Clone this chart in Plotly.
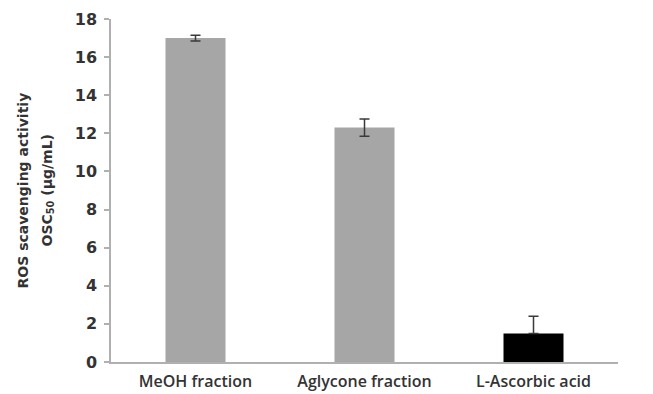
import plotly.graph_objects as go

categories = ["MeOH fraction", "Aglycone fraction", "L-Ascorbic acid"]
values = [17.0, 12.3, 1.5]
errors_plus = [0.15, 0.45, 0.9]
errors_minus = [0.15, 0.45, 0.0]
colors = ["#a6a6a6", "#a6a6a6", "#000000"]
y_ticks = [0, 2, 4, 6, 8, 10, 12, 14, 16, 18]
y_title_lines = ["ROS scavenging activitiy", "OSC<sub>50</sub> (µg/mL)"]

fig = go.Figure()
fig.add_trace(go.Bar(
    x=categories, y=values,
    marker=dict(color=colors, line=dict(width=0)),
    width=0.355,
    error_y=dict(type="data", array=errors_plus, arrayminus=errors_minus,
                 symmetric=False, visible=True, color="#3a3a3a", thickness=1.5, width=5),
))

plot_w = 653 - 111 - 35
title_font = dict(family="DejaVu Sans", size=14, color="#333333", weight="bold")

fig.update_layout(
    width=653, height=394,
    margin=dict(l=111, r=35, t=19, b=32),
    plot_bgcolor="white", paper_bgcolor="white",
    showlegend=False,
    xaxis=dict(
        showline=True, linecolor="#b0b0b0", linewidth=1.5,
        ticks="", showgrid=False, automargin=False,
        tickfont=dict(family="Open Sans", size=16, color="#333333", weight=600),
        ticklabelstandoff=4,
    ),
    yaxis=dict(
        range=[0, 18], tickvals=y_ticks,
        showline=True, linecolor="#b0b0b0", linewidth=1.5,
        ticks="outside", ticklen=5, tickcolor="#b0b0b0", tickwidth=1.5,
        showgrid=False, zeroline=False, automargin=False,
        tickfont=dict(family="DejaVu Sans", size=16, color="#333333", weight="bold"),
        ticklabelstandoff=4,
    ),
    annotations=[
        dict(text=y_title_lines[0], textangle=-90, xref="paper", yref="paper",
             x=(22 - 111) / plot_w, y=0.5, xanchor="center", yanchor="middle",
             showarrow=False, font=title_font),
        dict(text=y_title_lines[1], textangle=-90, xref="paper", yref="paper",
             x=(47 - 111) / plot_w, y=0.5, xanchor="center", yanchor="middle",
             showarrow=False, font=title_font),
    ],
)

fig.write_html("out.html")
